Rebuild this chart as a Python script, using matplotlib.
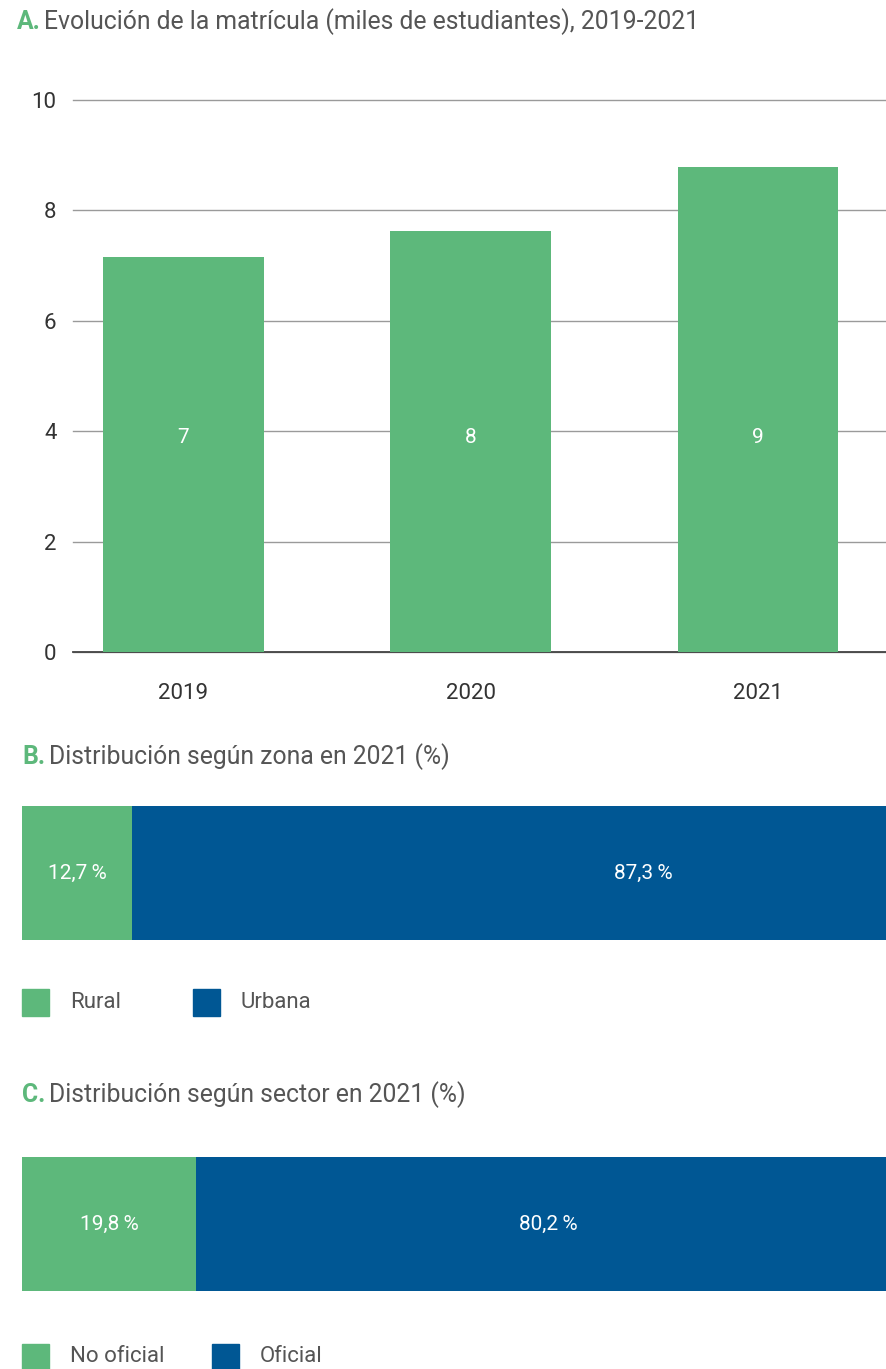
import matplotlib.pyplot as plt
from matplotlib.patches import Rectangle

plt.rcParams['font.family'] = ['Roboto', 'DejaVu Sans']

GREEN = "#5db87b"
BLUE = "#005794"
GRAY = "#555555"

# data
years = ["2019", "2020", "2021"]
matricula = [7.16, 7.63, 8.79]
matricula_lbl = ["7", "8", "9"]

zona = ["Rural", "Urbana"]
zona_pct = [12.7, 87.3]

sector = ["No oficial", "Oficial"]
sector_pct = [19.8, 80.2]

W, H = 887, 1369
fig = plt.figure(figsize=(W / 100, H / 100), dpi=100)


def box(x0, y0, x1, y1):
    # pixel box (top-left origin) -> figure fraction
    return [x0 / W, 1 - y1 / H, (x1 - x0) / W, (y1 - y0) / H]


def title(x, y, letter, text):
    t = fig.text(x / W, 1 - y / H, letter, color=GREEN, fontsize=17.8,
                 fontweight="bold", va="center", ha="left")
    fig.canvas.draw()
    bb = t.get_window_extent()
    fig.text(bb.x1 / W + 0.004, 1 - y / H, text, color=GRAY, fontsize=17.8,
             va="center", ha="left")


# ---- A ----
ax = fig.add_axes(box(73, 100, 887, 652))
x = range(len(years))
ax.bar(x, matricula, width=0.56, color=GREEN, zorder=3)
for i, lab in enumerate(matricula_lbl):
    ax.text(i, 3.88, lab, color="white", fontsize=15, ha="center", va="center", zorder=4)
ax.set_ylim(0, 10)
ax.set_xlim(-0.384, 2.449)
ax.set_yticks([0, 2, 4, 6, 8, 10])
ax.set_xticks(list(x))
ax.set_xticklabels(years)
ax.grid(axis="y", color="#9a9a9a", linewidth=1, zorder=0)
for s in ["top", "right", "left"]:
    ax.spines[s].set_visible(False)
ax.spines["bottom"].set_color("#444444")
ax.spines["bottom"].set_linewidth(1.3)
ax.tick_params(axis="y", length=0, pad=12, labelsize=16, labelcolor="#333333")
ax.tick_params(axis="x", length=0, pad=22, labelsize=16, labelcolor="#333333")
for gl in ax.get_ygridlines():
    gl.set_clip_on(False)

title(17, 22, "A.", "Evolución de la matrícula (miles de estudiantes), 2019-2021")


def stacked(axbox, names, vals, label_x, legend_y, legend_xs):
    a = fig.add_axes(axbox)
    left = 0
    cols = [GREEN, BLUE]
    for v, c, lx in zip(vals, cols, label_x):
        a.barh(0, v, left=left, height=1, color=c)
        a.text(lx, 0, f"{v:.1f}".replace(".", ",") + "\u2009%", color="white",
               fontsize=15, ha="center", va="center")
        left += v
    a.set_xlim(0, 100)
    a.set_ylim(-0.5, 0.5)
    a.axis("off")
    for n, c, lx in zip(names, cols, legend_xs):
        fig.add_artist(Rectangle((lx / W, 1 - (legend_y + 13.5) / H), 27 / W, 27 / H,
                                 transform=fig.transFigure, color=c))
        fig.text((lx + 48) / W, 1 - legend_y / H, n, color=GRAY, fontsize=16,
                 va="center", ha="left")


# ---- B ----
title(22, 757, "B.", "Distribución según zona en 2021 (%)")
stacked(box(22, 806, 888, 940), zona, zona_pct,
        [zona_pct[0] / 2, 71.7], 1002, [22, 193])

# ---- C ----
title(22, 1095, "C.", "Distribución según sector en 2021 (%)")
stacked(box(22, 1157, 900, 1291), sector, sector_pct,
        [sector_pct[0] / 2, sector_pct[0] + sector_pct[1] / 2], 1357, [22, 212])

fig.savefig("out.png", dpi=100)
